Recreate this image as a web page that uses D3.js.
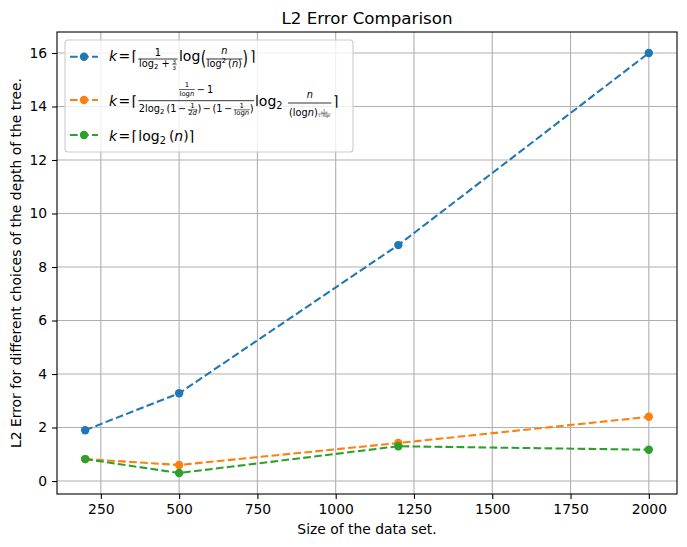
<!DOCTYPE html>
<html>
<head>
<meta charset="utf-8">
<script src="https://cdn.jsdelivr.net/npm/d3@7"></script>
<style>
  body { margin: 0; background: #fff; }
  svg { font-family: "DejaVu Sans", sans-serif; }
  text { white-space: pre; }
</style>
</head>
<body>
<div id="chart"></div>
<script>
// data
var sizes = [200, 500, 1200, 2000];
var errLog = [1.9, 3.28, 8.82, 16.0];
var errMixed = [0.82, 0.6, 1.42, 2.4];
var errLog2 = [0.82, 0.3, 1.3, 1.17];
var xTicks = [250, 500, 750, 1000, 1250, 1500, 1750, 2000];
var yTicks = [0, 2, 4, 6, 8, 10, 12, 14, 16];
var colors = ['#1f77b4', '#ff7f0e', '#2ca02c'];

var width = 687, height = 547;
var box = {left: 57, right: 677, top: 32, bottom: 494};

var svg = d3.select('#chart').append('svg')
  .attr('width', width)
  .attr('height', height);

// matplotlib style 5% margins
var xr = d3.extent(sizes), xpad = (xr[1] - xr[0]) * 0.05;
var allY = errLog.concat(errMixed, errLog2);
var yr = d3.extent(allY), ypad = (yr[1] - yr[0]) * 0.05;

var x = d3.scaleLinear().domain([xr[0] - xpad, xr[1] + xpad]).range([box.left, box.right]);
var y = d3.scaleLinear().domain([yr[0] - ypad, yr[1] + ypad]).range([box.bottom, box.top]);

// grid
var grid = svg.append('g');
grid.selectAll('line.gx').data(xTicks).enter().append('line')
  .attr('x1', function(d){ return x(d) }).attr('x2', function(d){ return x(d) })
  .attr('y1', box.top).attr('y2', box.bottom)
  .attr('stroke', '#b0b0b0').attr('stroke-width', 1.1);
grid.selectAll('line.gy').data(yTicks).enter().append('line')
  .attr('y1', function(d){ return y(d) }).attr('y2', function(d){ return y(d) })
  .attr('x1', box.left).attr('x2', box.right)
  .attr('stroke', '#b0b0b0').attr('stroke-width', 1.1);

// series
var series = [errLog, errMixed, errLog2];
var line = d3.line().x(function(d, i){ return x(sizes[i]) }).y(function(d){ return y(d) });
series.forEach(function(vals, k){
  svg.append('path').datum(vals)
    .attr('d', line)
    .attr('fill', 'none')
    .attr('stroke', colors[k])
    .attr('stroke-width', 2.08)
    .attr('stroke-dasharray', '7.7,3.3');
  svg.selectAll('circle.s' + k).data(vals).enter().append('circle')
    .attr('cx', function(d, i){ return x(sizes[i]) })
    .attr('cy', function(d){ return y(d) })
    .attr('r', 4.2)
    .attr('fill', colors[k]);
});

// axes
var xAxis = d3.axisBottom(x).tickValues(xTicks).tickFormat(d3.format('d')).tickSizeOuter(0).tickSize(4.9).tickPadding(4.9);
var yAxis = d3.axisLeft(y).tickValues(yTicks).tickFormat(d3.format('d')).tickSizeOuter(0).tickSize(4.9).tickPadding(4.9);
var gx = svg.append('g').attr('transform', 'translate(0,' + box.bottom + ')').call(xAxis);
var gy = svg.append('g').attr('transform', 'translate(' + box.left + ',0)').call(yAxis);
[gx, gy].forEach(function(g){
  g.select('.domain').remove();
  g.selectAll('line').attr('stroke', '#000').attr('stroke-width', 1.1);
  g.selectAll('text').attr('font-size', 13.9).attr('font-family', 'DejaVu Sans').attr('fill', '#000');
});

svg.append('rect')
  .attr('x', box.left).attr('y', box.top)
  .attr('width', box.right - box.left).attr('height', box.bottom - box.top)
  .attr('fill', 'none').attr('stroke', '#000').attr('stroke-width', 1.1);

svg.append('text').attr('x', (box.left + box.right) / 2).attr('y', 24)
  .attr('text-anchor', 'middle').attr('font-size', 16.7).text('L2 Error Comparison');
svg.append('text').attr('x', (box.left + box.right) / 2).attr('y', 534)
  .attr('text-anchor', 'middle').attr('font-size', 13.9).text('Size of the data set.');
svg.append('text').attr('transform', 'translate(21,' + ((box.top + box.bottom) / 2) + ') rotate(-90)')
  .attr('text-anchor', 'middle').attr('font-size', 13.9)
  .text('L2 Error for different choices of the depth of the tree.');

// legend
var legend = svg.append('g');
legend.append('rect')
  .attr('x', 65).attr('y', 40).attr('width', 288).attr('height', 112).attr('rx', 3)
  .attr('fill', '#fff').attr('fill-opacity', 0.8)
  .attr('stroke', '#cccccc').attr('stroke-width', 1.1);

var rowsY = [56.7, 100, 135];
rowsY.forEach(function(ry, k){
  legend.append('line').attr('x1', 70).attr('x2', 98).attr('y1', ry).attr('y2', ry)
    .attr('stroke', colors[k]).attr('stroke-width', 2.08).attr('stroke-dasharray', '7.7,3.3');
  legend.append('circle').attr('cx', 84).attr('cy', ry).attr('r', 4.2).attr('fill', colors[k]);
});

// tiny mathtext-like layout: text runs and fractions, laid out left to right
function mrow(g, x0, y0, items){
  var cx = x0;
  items.forEach(function(it){
    if (it.gap){ cx += it.gap; return; }
    if (it.num){
      var ng = g.append('g'), dg = g.append('g');
      var nw = mrow(ng, 0, 0, it.num), dw = mrow(dg, 0, 0, it.den);
      var w = Math.max(nw, dw) + (it.pad || 1);
      var by = y0 + it.bar;
      ng.attr('transform', 'translate(' + (cx + (w - nw) / 2) + ',' + (by - it.up) + ')');
      dg.attr('transform', 'translate(' + (cx + (w - dw) / 2) + ',' + (by + it.down) + ')');
      g.append('line').attr('x1', cx).attr('x2', cx + w).attr('y1', by).attr('y2', by)
        .attr('stroke', '#000').attr('stroke-width', it.lw || 0.8);
      cx += w;
      return;
    }
    var t = g.append('text')
      .attr('font-size', it.s).attr('font-style', it.i ? 'italic' : null).text(it.t);
    if (it.sy) {
      // stretched delimiter
      t.attr('transform', 'translate(' + cx + ',' + (y0 + (it.dy || 0)) + ') scale(1,' + it.sy + ')');
    } else {
      t.attr('x', cx).attr('y', y0 + (it.dy || 0));
    }
    cx += t.node().getComputedTextLength();
  });
  return cx;
}

var F = 9.8, S = 6.9;  // fraction and script sizes
var head = [{t:'k', s:14, i:1}, {gap:1.5}, {t:'=', s:14}, {gap:1.5}, {t:'\u2308', s:14}, {gap:1}];
var logn6 = [{t:'log', s:S}, {t:'n', s:S, i:1}];

mrow(legend, 109, 60.5, head.concat([
  {bar:-1.5, up:3.5, down:8, pad:1.5,
   num:[{t:'1', s:F}],
   den:[{t:'log', s:F}, {t:'2', s:S, dy:2}, {gap:3}, {t:'+', s:F}, {gap:2.5},
        {bar:-2.7, up:0.6, down:5.3, lw:0.5, num:[{t:'3', s:5.6}], den:[{t:'3', s:5.6}]}]},
  {gap:1.5}, {t:'log', s:14}, {gap:0.5}, {t:'(', s:14, sy:1.4, dy:4},
  {bar:-1.5, up:5, down:7.5, pad:1,
   num:[{t:'n', s:F, i:1}],
   den:[{t:'log', s:F}, {t:'2', s:S, dy:-4}, {gap:2}, {t:'(', s:F}, {t:'n', s:F, i:1}, {t:')', s:F}]},
  {t:')', s:14, sy:1.4, dy:4}, {gap:2}, {t:'\u2309', s:14}
]));

mrow(legend, 109, 106, head.concat([
  {bar:-5.3, up:7.4, down:11.5, pad:1,
   num:[{bar:-3.8, up:2.5, down:6.2, lw:0.6, num:[{t:'1', s:S}], den:logn6},
        {gap:2}, {t:'\u2212', s:F}, {gap:2}, {t:'1', s:F}],
   den:[{t:'2log', s:F}, {t:'2', s:S, dy:2}, {gap:2}, {t:'(1', s:F}, {gap:1.5}, {t:'\u2212', s:F}, {gap:1.5},
        {bar:-2.4, up:1.5, down:5.2, lw:0.6, num:[{t:'1', s:S}], den:[{t:'2', s:S}, {t:'d', s:S, i:1}]},
        {t:')', s:F}, {gap:1.5}, {t:'\u2212', s:F}, {gap:1.5}, {t:'(1', s:F}, {gap:1.5}, {t:'\u2212', s:F}, {gap:1.5},
        {bar:-2.4, up:1.5, down:5.2, lw:0.6, num:[{t:'1', s:S}], den:logn6},
        {t:')', s:F}]},
  {gap:1}, {t:'log', s:14}, {t:'2', s:F, dy:3}, {gap:5.5},
  {bar:-3, up:5, down:13, pad:2,
   num:[{t:'n', s:F, i:1}],
   den:[{t:'(log', s:F}, {t:'n', s:F, i:1}, {t:')', s:F},
        {bar:-2, up:1.2, down:3.4, lw:0.4,
         num:[{bar:-0.8, up:0.6, down:2.3, lw:0.3, num:[{t:'1', s:2.8}], den:[{t:'logn', s:2.8}]}],
         den:[{t:'1\u2212log', s:3.2}, {t:'n', s:3.2, i:1}]}]},
  {gap:1.5}, {t:'\u2309', s:14}
]));

mrow(legend, 109, 141, head.concat([
  {t:'log', s:14}, {t:'2', s:F, dy:3}, {gap:3}, {t:'(', s:14}, {t:'n', s:14, i:1}, {t:')', s:14}, {t:'\u2309', s:14}
]));
</script>
</body>
</html>
